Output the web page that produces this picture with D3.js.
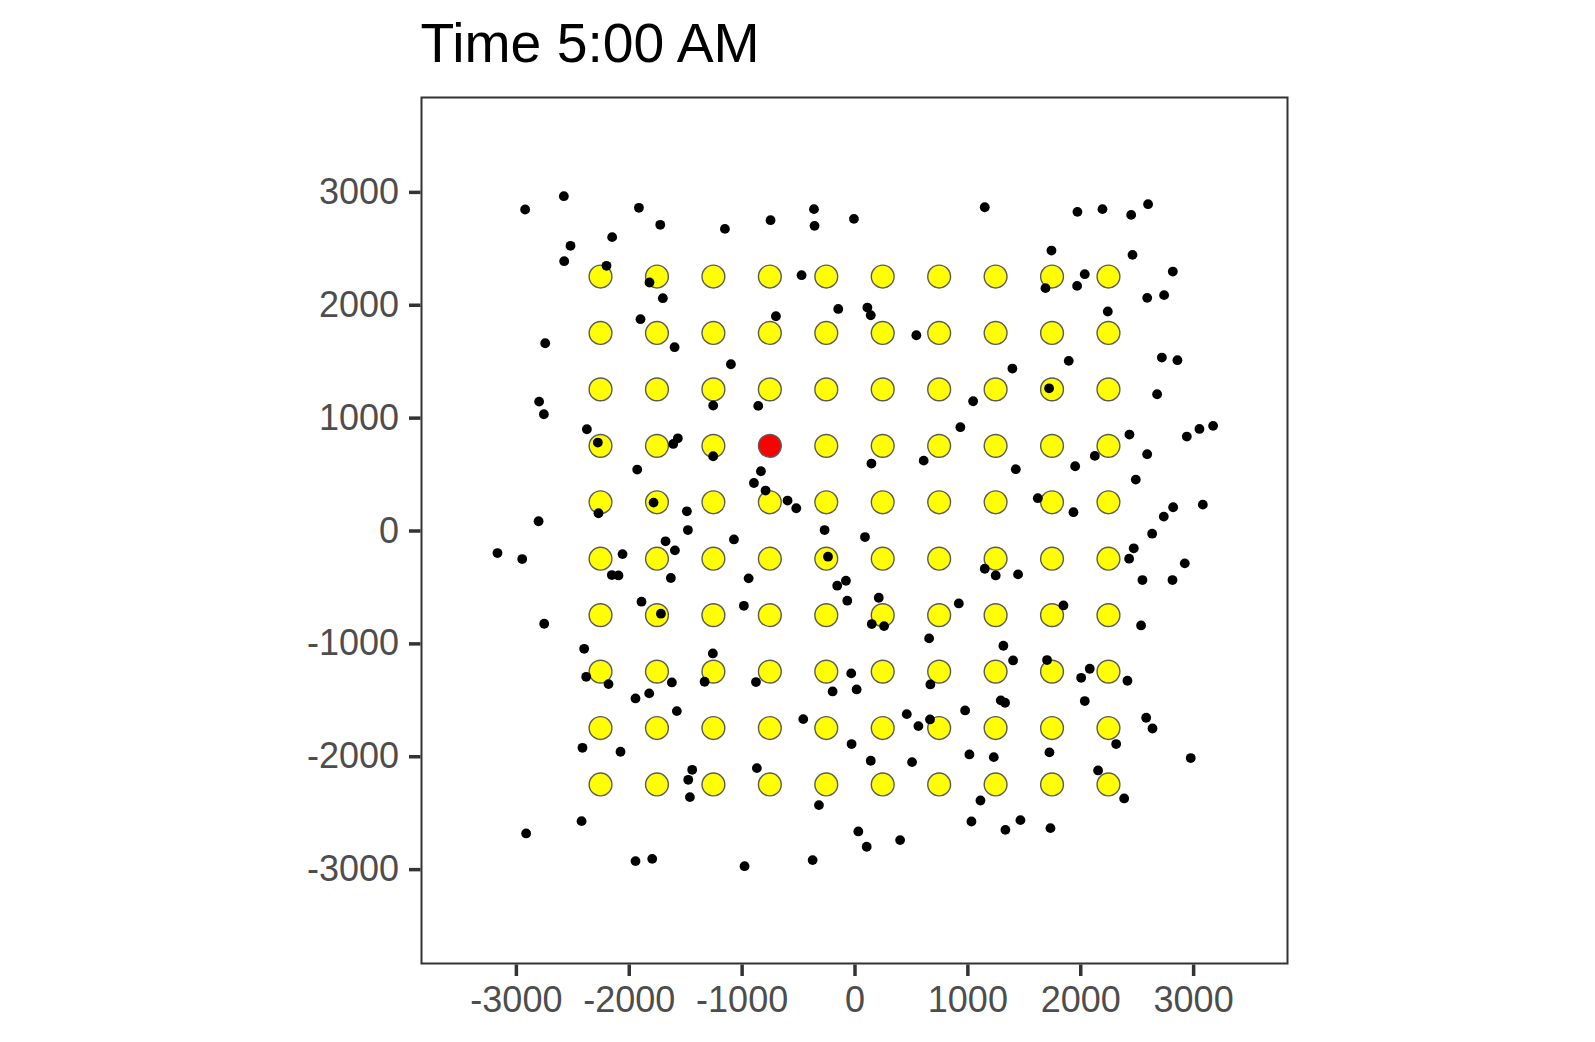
<!DOCTYPE html>
<html>
<head>
<meta charset="utf-8">
<script src="https://cdn.jsdelivr.net/npm/d3@7"></script>
<style>
  html, body { margin: 0; padding: 0; background: #ffffff; }
  svg { display: block; font-family: "Liberation Sans", Arial, Helvetica, sans-serif; }
</style>
</head>
<body>
<svg id="chart" width="1595" height="1042"></svg>
<script>
// ---- data ----
const titleText = "Time 5:00 AM";
const tickValues = [-3000, -2000, -1000, 0, 1000, 2000, 3000];
const gridCols = [-2250, -1750, -1250, -750, -250, 250, 750, 1250, 1750, 2250];
const gridRows = [2250, 1750, 1250, 750, 250, -250, -750, -1250, -1750, -2250];
const activeX = [-750];
const activeY = [750];
const moverX = [
  -2918,-2575,-1910,-1721,-2147,-2516,-2572,-2197,-1816,-1698,-1148,-744,-359,-354,-5,-469,-1896,-696,-144,-2740,
  -1594,-1095,-2794,-2752,-1252,-853,-2371,-2274,-1565,-1606,-1252,-1925,-829,-891,-788,-593,-516,-1780,-2268,-1485,-2799,
  1154,1975,2197,2451,2601,1745,2463,2820,2040,1972,1692,2593,2743,114,144,2244,548,1898,2723,2861,
  1399,1724,2681,1051,938,2436,2944,3056,3177,2593,2129,150,613,1429,1955,2492,1624,1940,3086,2823,2740,
  -1476,-265,-3163,-2944,-2055,-1674,-1591,-1068,-2150,-2091,-1627,-235,-938,-153,-76,-64,-1887,-1715,-980,-2749,
  -2395,-1255,-2377,-2179,-1618,-1328,-873,-29,-194,19,-1940,-1819,-1574,-454,-2410,-2073,-26,-1438,-1473,-1458,
  -865,-315,-2418,-2909,-1940,-1792,-974,-371,
  93,2637,2474,2433,2926,2551,2817,1154,1251,1449,215,153,262,924,1851,2539,661,1319,1405,1706,
  2084,2008,2418,672,1296,1334,2040,980,463,566,669,2584,2640,2318,144,510,1018,1234,1727,2979,
  2158,2389,1116,1036,1337,1470,1736,34,108,404
];
const moverY = [
  2844,2962,2859,2708,2599,2522,2386,2345,2197,2058,2672,2749,2847,2699,2761,2262,1872,1898,1963,1659,
  1624,1473,1142,1030,1107,1104,897,779,817,767,658,540,525,421,354,265,197,247,153,170,82,
  2864,2823,2847,2796,2891,2480,2442,2294,2271,2167,2147,2061,2085,1975,1907,1940,1730,1503,1532,1509,
  1435,1260,1207,1145,915,850,832,900,927,676,661,593,619,543,569,451,286,162,229,206,123,
  4,4,-200,-253,-209,-96,-176,-79,-395,-398,-421,-232,-424,-489,-445,-622,-631,-737,-667,-826,
  -1048,-1089,-1296,-1361,-1346,-1340,-1343,-1266,-1426,-1408,-1488,-1443,-1600,-1671,-1925,-1960,-1892,-2120,-2209,-2362,
  -2105,-2433,-2575,-2684,-2929,-2909,-2974,-2920,
  -58,-28,-158,-250,-291,-439,-439,-339,-398,-389,-596,-829,-847,-646,-664,-841,-956,-1021,-1151,-1148,
  -1225,-1305,-1331,-1364,-1505,-1526,-1511,-1594,-1627,-1733,-1674,-1659,-1754,-1892,-2040,-2052,-1984,-2008,-1966,-2016,
  -2126,-2374,-2392,-2578,-2652,-2566,-2637,-2666,-2802,-2743
];
const axisLimit = 3845;

// ---- layout ----
const svg = d3.select("#chart");
const panel = { left: 420.5, top: 96.5, width: 868, height: 868 };

const x = d3.scaleLinear().domain([-axisLimit, axisLimit]).range([panel.left, panel.left + panel.width]);
const y = d3.scaleLinear().domain([-axisLimit, axisLimit]).range([panel.top + panel.height, panel.top]);

svg.append("rect").attr("width", 1595).attr("height", 1042).attr("fill", "#ffffff");

// title
svg.append("text")
  .attr("x", 420.5).attr("y", 62)
  .attr("font-size", 55.3)
  .attr("fill", "#000000")
  .text(titleText);

// panel background
svg.append("rect")
  .attr("x", panel.left).attr("y", panel.top)
  .attr("width", panel.width).attr("height", panel.height)
  .attr("fill", "#ffffff");

// grid (yellow) points
const gridData = [];
gridRows.forEach(r => gridCols.forEach(c => {
  const isActive = activeX.some((ax, i) => ax === c && activeY[i] === r);
  gridData.push({ x: c, y: r, active: isActive });
}));

const plotG = svg.append("g");
plotG.selectAll("circle.grid")
  .data(gridData)
  .join("circle")
  .attr("class", "grid")
  .attr("cx", d => x(d.x))
  .attr("cy", d => y(d.y))
  .attr("r", 11.4)
  .attr("fill", d => d.active ? "#FF0000" : "#FFFF00")
  .attr("stroke", "#5a5a5a")
  .attr("stroke-width", 1.4);

// movers (black)
const movers = moverX.map((vx, i) => ({ x: vx, y: moverY[i] }));
plotG.selectAll("circle.mover")
  .data(movers)
  .join("circle")
  .attr("class", "mover")
  .attr("cx", d => x(d.x))
  .attr("cy", d => y(d.y))
  .attr("r", 4.9)
  .attr("fill", "#000000");

// panel border (drawn inside the panel edge)
svg.append("rect")
  .attr("x", panel.left + 1).attr("y", panel.top + 1)
  .attr("width", panel.width - 2).attr("height", panel.height - 2)
  .attr("fill", "none")
  .attr("stroke", "#333333")
  .attr("stroke-width", 2);

// axes
const xAxis = d3.axisBottom(x).tickValues(tickValues).tickSize(11.5).tickPadding(10).tickFormat(d3.format("d"));
const yAxis = d3.axisLeft(y).tickValues(tickValues).tickSize(11.5).tickPadding(10).tickFormat(d3.format("d"));

const gx = svg.append("g").attr("transform", `translate(0,${panel.top + panel.height})`).call(xAxis);
const gy = svg.append("g").attr("transform", `translate(${panel.left},0)`).call(yAxis);

[gx, gy].forEach(g => {
  g.select(".domain").remove();
  g.selectAll(".tick line").attr("stroke", "#333333").attr("stroke-width", 3.5);
  g.selectAll(".tick text")
    .attr("fill", "#4D4D4D")
    .attr("font-size", 36)
    .attr("font-family", "\"Liberation Sans\", Arial, Helvetica, sans-serif");
});
gx.selectAll(".tick text").attr("dy", null).attr("y", null)
  .attr("y", 11.5 + 10 + 26).attr("dominant-baseline", "auto");
gx.selectAll(".tick text").text(d => d < 0 ? "-" + Math.abs(d) : String(d));
gy.selectAll(".tick text").text(d => d < 0 ? "-" + Math.abs(d) : String(d));
</script>
</body>
</html>
